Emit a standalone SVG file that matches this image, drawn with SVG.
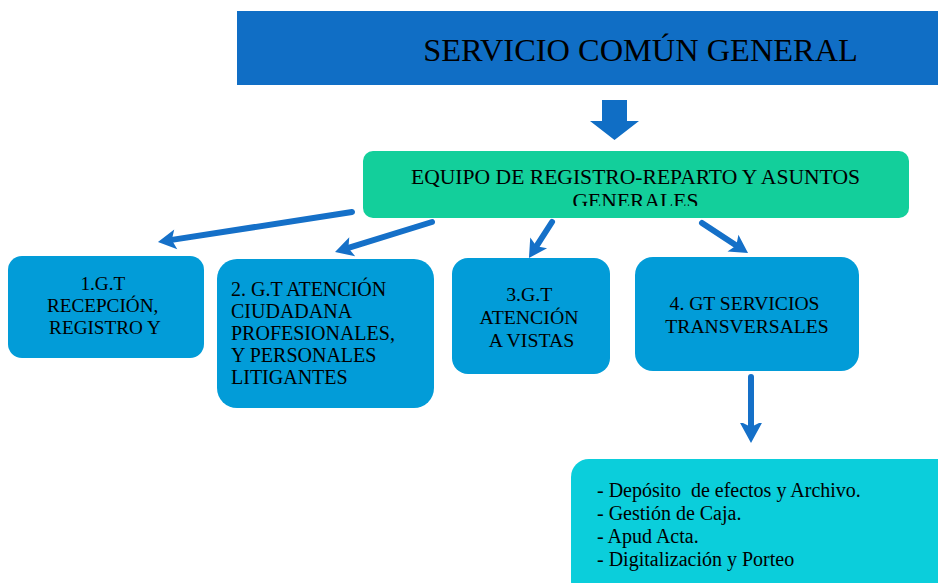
<svg xmlns="http://www.w3.org/2000/svg" width="938" height="583" viewBox="0 0 938 583">
<style>
  .t { font-family: "Liberation Serif", "Times New Roman", serif; fill: #000; }
  .box { fill: #029CD8; }
  .conn { stroke: #1570C8; stroke-width: 6; fill: none; stroke-linecap: round; }
</style>
<defs>
  <marker id="ah" viewBox="-6 -12 22 24" refX="0" refY="0" markerWidth="22" markerHeight="24" markerUnits="userSpaceOnUse" orient="auto">
    <path d="M14,0 L-4,-10 L0,0 L-4,10 Z" fill="#1570C8"/>
  </marker>
  <marker id="ah2" viewBox="-6 -14 28 28" refX="0" refY="0" markerWidth="28" markerHeight="28" markerUnits="userSpaceOnUse" orient="auto">
    <path d="M14,0 L-8,-12 L-2,0 L-8,12 Z" fill="#1570C8"/>
  </marker>
  <clipPath id="gclip"><rect x="363" y="151" width="546" height="55"/></clipPath>
</defs>

<g id="title">
  <rect x="237" y="11" width="701" height="74" fill="#106EC5"/>
  <text class="t" x="640.5" y="61" font-size="32.4" text-anchor="middle">SERVICIO COMÚN GENERAL</text>
</g>

<g id="equipo">
  <rect x="363" y="151" width="546" height="67" rx="10" fill="#13CF9B"/>
  <text class="t" x="635.5" y="184" font-size="21.6" text-anchor="middle">EQUIPO DE REGISTRO-REPARTO Y ASUNTOS</text>
  <text class="t" x="635.5" y="208" font-size="21.6" text-anchor="middle" clip-path="url(#gclip)">GENERALES</text>
</g>

<g id="gt1">
  <rect class="box" x="8" y="256" width="196" height="102" rx="14"/>
  <text class="t" font-size="19.2" text-anchor="middle">
    <tspan x="105" y="290">1.G.T</tspan>
    <tspan x="105" y="312">RECEPCIÓN,</tspan>
    <tspan x="105" y="334">REGISTRO Y</tspan>
  </text>
</g>

<g id="gt2">
  <rect class="box" x="217" y="259" width="217" height="149" rx="20"/>
  <text class="t" font-size="20">
    <tspan x="231" y="296">2. G.T ATENCIÓN</tspan>
    <tspan x="231" y="318">CIUDADANA</tspan>
    <tspan x="231" y="340">PROFESIONALES,</tspan>
    <tspan x="231" y="362">Y PERSONALES</tspan>
    <tspan x="231" y="384">LITIGANTES</tspan>
  </text>
</g>

<g id="gt3">
  <rect class="box" x="452" y="258" width="158" height="116" rx="16"/>
  <text class="t" font-size="19.8" text-anchor="middle">
    <tspan x="531.5" y="301">3.G.T</tspan>
    <tspan x="531.5" y="324">ATENCIÓN</tspan>
    <tspan x="531.5" y="347">A VISTAS</tspan>
  </text>
</g>

<g id="gt4">
  <rect class="box" x="635" y="257" width="224" height="114" rx="18"/>
  <text class="t" font-size="19.6" text-anchor="middle">
    <tspan x="747" y="310">4. GT SERVICIOS</tspan>
    <tspan x="747" y="333">TRANSVERSALES</tspan>
  </text>
</g>

<g id="servicios">
  <rect x="571" y="459" width="400" height="140" rx="18" fill="#0BCEDB"/>
  <text class="t" font-size="20" xml:space="preserve">
    <tspan x="597" y="497">- Depósito  de efectos y Archivo.</tspan>
    <tspan x="597" y="520">- Gestión de Caja.</tspan>
    <tspan x="597" y="543">- Apud Acta.</tspan>
    <tspan x="597" y="566">- Digitalización y Porteo</tspan>
  </text>
</g>

<g id="connectors">
  <polygon points="602,100 627,100 627,121 639,121 614.5,140 590,121 602,121" fill="#106EC5"/>
  <line class="conn" x1="352" y1="212" x2="171.8" y2="239.9" marker-end="url(#ah)"/>
  <line class="conn" x1="432" y1="222" x2="348.4" y2="247.9" marker-end="url(#ah)"/>
  <line class="conn" x1="552" y1="222" x2="536.5" y2="246.2" marker-end="url(#ah)"/>
  <line class="conn" x1="702" y1="223" x2="736.3" y2="245.4" marker-end="url(#ah)"/>
  <line class="conn" x1="751" y1="377" x2="751" y2="429" marker-end="url(#ah2)"/>
</g>
</svg>
